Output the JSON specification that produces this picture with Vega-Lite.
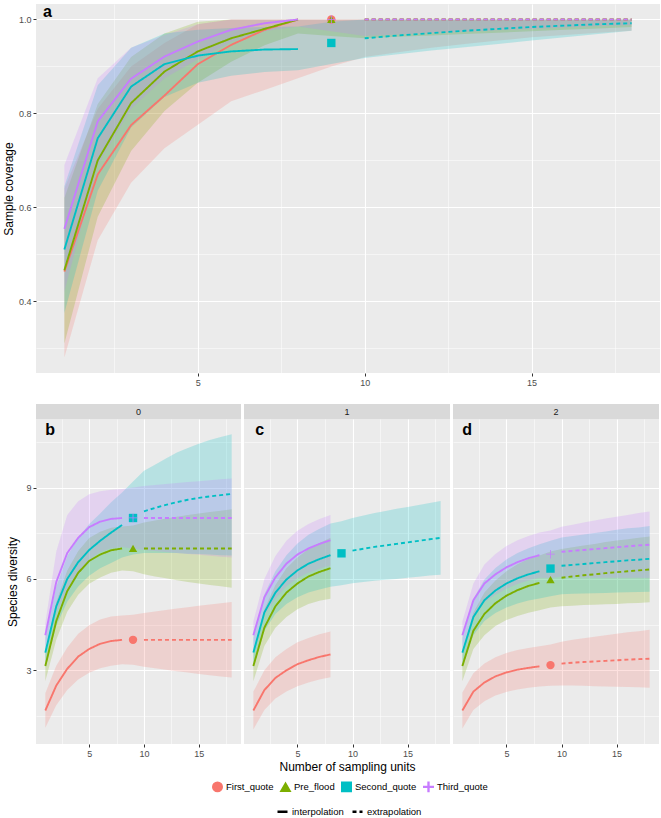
{
  "$schema": "https://vega.github.io/schema/vega-lite/v6.json",
  "padding": {"top": 3, "left": 2, "right": 2, "bottom": 0},
  "background": "white",
  "config": {
    "font": "Liberation Sans",
    "view": {"fill": "#EBEBEB", "stroke": null},
    "axis": {"domain": false, "gridColor": "#FFFFFF", "tickColor": "#333333", "tickSize": 3, "labelColor": "#4D4D4D", "labelFontSize": 9, "labelPadding": 2, "titleFontWeight": "normal", "titleColor": "#000000", "titleFontSize": 12, "labelOverlap": false},
    "legend": {"labelFontSize": 9.5, "labelColor": "#000000", "labelOffset": 3, "columnPadding": 3}
  },
  "datasets": {
    "cov": [
      {"g":"First_quote","x":1,"m":"interpolation","y":0.463,"lo":0.28,"hi":0.64},
      {"g":"First_quote","x":2,"m":"interpolation","y":0.67,"lo":0.53,"hi":0.81},
      {"g":"First_quote","x":3,"m":"interpolation","y":0.775,"lo":0.652,"hi":0.9},
      {"g":"First_quote","x":4,"m":"interpolation","y":0.838,"lo":0.726,"hi":0.95},
      {"g":"First_quote","x":5,"m":"interpolation","y":0.905,"lo":0.776,"hi":0.99},
      {"g":"First_quote","x":6,"m":"interpolation","y":0.946,"lo":0.826,"hi":1.0},
      {"g":"First_quote","x":7,"m":"interpolation","y":0.978,"lo":0.85,"hi":1.0},
      {"g":"First_quote","x":8,"m":"interpolation","y":1.0,"lo":0.875,"hi":1.0},
      {"g":"First_quote","x":9,"m":"observed","y":1.0,"lo":0.9,"hi":1.0},
      {"g":"First_quote","x":10,"m":"extrapolation","y":1.0,"lo":0.92,"hi":1.0},
      {"g":"First_quote","x":11,"m":"extrapolation","y":1.0,"lo":0.93,"hi":1.0},
      {"g":"First_quote","x":12,"m":"extrapolation","y":1.0,"lo":0.94,"hi":1.0},
      {"g":"First_quote","x":13,"m":"extrapolation","y":1.0,"lo":0.948,"hi":1.0},
      {"g":"First_quote","x":14,"m":"extrapolation","y":1.0,"lo":0.955,"hi":1.0},
      {"g":"First_quote","x":15,"m":"extrapolation","y":1.0,"lo":0.962,"hi":1.0},
      {"g":"First_quote","x":16,"m":"extrapolation","y":1.0,"lo":0.967,"hi":1.0},
      {"g":"First_quote","x":17,"m":"extrapolation","y":1.0,"lo":0.972,"hi":1.0},
      {"g":"First_quote","x":18,"m":"extrapolation","y":1.0,"lo":0.976,"hi":1.0},
      {"g":"Pre_flood","x":1,"m":"interpolation","y":0.466,"lo":0.31,"hi":0.62},
      {"g":"Pre_flood","x":2,"m":"interpolation","y":0.7,"lo":0.58,"hi":0.82},
      {"g":"Pre_flood","x":3,"m":"interpolation","y":0.822,"lo":0.72,"hi":0.92},
      {"g":"Pre_flood","x":4,"m":"interpolation","y":0.889,"lo":0.805,"hi":0.97},
      {"g":"Pre_flood","x":5,"m":"interpolation","y":0.932,"lo":0.865,"hi":0.995},
      {"g":"Pre_flood","x":6,"m":"interpolation","y":0.96,"lo":0.91,"hi":1.0},
      {"g":"Pre_flood","x":7,"m":"interpolation","y":0.98,"lo":0.945,"hi":1.0},
      {"g":"Pre_flood","x":8,"m":"interpolation","y":1.0,"lo":0.97,"hi":1.0},
      {"g":"Pre_flood","x":9,"m":"observed","y":1.0,"lo":0.965,"hi":1.0},
      {"g":"Pre_flood","x":10,"m":"extrapolation","y":1.0,"lo":0.96,"hi":1.0},
      {"g":"Pre_flood","x":11,"m":"extrapolation","y":1.0,"lo":0.963,"hi":1.0},
      {"g":"Pre_flood","x":12,"m":"extrapolation","y":1.0,"lo":0.966,"hi":1.0},
      {"g":"Pre_flood","x":13,"m":"extrapolation","y":1.0,"lo":0.969,"hi":1.0},
      {"g":"Pre_flood","x":14,"m":"extrapolation","y":1.0,"lo":0.972,"hi":1.0},
      {"g":"Pre_flood","x":15,"m":"extrapolation","y":1.0,"lo":0.975,"hi":1.0},
      {"g":"Pre_flood","x":16,"m":"extrapolation","y":1.0,"lo":0.978,"hi":1.0},
      {"g":"Pre_flood","x":17,"m":"extrapolation","y":1.0,"lo":0.981,"hi":1.0},
      {"g":"Pre_flood","x":18,"m":"extrapolation","y":1.0,"lo":0.984,"hi":1.0},
      {"g":"Second_quote","x":1,"m":"interpolation","y":0.51,"lo":0.375,"hi":0.645},
      {"g":"Second_quote","x":2,"m":"interpolation","y":0.747,"lo":0.635,"hi":0.86},
      {"g":"Second_quote","x":3,"m":"interpolation","y":0.857,"lo":0.77,"hi":0.94},
      {"g":"Second_quote","x":4,"m":"interpolation","y":0.905,"lo":0.835,"hi":0.97},
      {"g":"Second_quote","x":5,"m":"interpolation","y":0.923,"lo":0.865,"hi":0.978},
      {"g":"Second_quote","x":6,"m":"interpolation","y":0.932,"lo":0.88,"hi":0.982},
      {"g":"Second_quote","x":7,"m":"interpolation","y":0.936,"lo":0.888,"hi":0.984},
      {"g":"Second_quote","x":8,"m":"interpolation","y":0.937,"lo":0.892,"hi":0.985},
      {"g":"Second_quote","x":9,"m":"observed","y":0.95,"lo":0.905,"hi":0.995},
      {"g":"Second_quote","x":10,"m":"extrapolation","y":0.96,"lo":0.918,"hi":1.0},
      {"g":"Second_quote","x":11,"m":"extrapolation","y":0.966,"lo":0.926,"hi":1.0},
      {"g":"Second_quote","x":12,"m":"extrapolation","y":0.971,"lo":0.934,"hi":1.0},
      {"g":"Second_quote","x":13,"m":"extrapolation","y":0.976,"lo":0.941,"hi":1.0},
      {"g":"Second_quote","x":14,"m":"extrapolation","y":0.98,"lo":0.948,"hi":1.0},
      {"g":"Second_quote","x":15,"m":"extrapolation","y":0.984,"lo":0.955,"hi":1.0},
      {"g":"Second_quote","x":16,"m":"extrapolation","y":0.987,"lo":0.962,"hi":1.0},
      {"g":"Second_quote","x":17,"m":"extrapolation","y":0.99,"lo":0.969,"hi":1.0},
      {"g":"Second_quote","x":18,"m":"extrapolation","y":0.992,"lo":0.976,"hi":1.0},
      {"g":"Third_quote","x":1,"m":"interpolation","y":0.554,"lo":0.42,"hi":0.69},
      {"g":"Third_quote","x":2,"m":"interpolation","y":0.783,"lo":0.69,"hi":0.875},
      {"g":"Third_quote","x":3,"m":"interpolation","y":0.874,"lo":0.81,"hi":0.94},
      {"g":"Third_quote","x":4,"m":"interpolation","y":0.921,"lo":0.875,"hi":0.967},
      {"g":"Third_quote","x":5,"m":"interpolation","y":0.953,"lo":0.915,"hi":0.99},
      {"g":"Third_quote","x":6,"m":"interpolation","y":0.978,"lo":0.952,"hi":1.0},
      {"g":"Third_quote","x":7,"m":"interpolation","y":0.992,"lo":0.975,"hi":1.0},
      {"g":"Third_quote","x":8,"m":"interpolation","y":1.0,"lo":0.985,"hi":1.0},
      {"g":"Third_quote","x":9,"m":"observed","y":1.0,"lo":0.975,"hi":1.0},
      {"g":"Third_quote","x":10,"m":"extrapolation","y":1.0,"lo":0.965,"hi":1.0},
      {"g":"Third_quote","x":11,"m":"extrapolation","y":1.0,"lo":0.968,"hi":1.0},
      {"g":"Third_quote","x":12,"m":"extrapolation","y":1.0,"lo":0.971,"hi":1.0},
      {"g":"Third_quote","x":13,"m":"extrapolation","y":1.0,"lo":0.974,"hi":1.0},
      {"g":"Third_quote","x":14,"m":"extrapolation","y":1.0,"lo":0.977,"hi":1.0},
      {"g":"Third_quote","x":15,"m":"extrapolation","y":1.0,"lo":0.98,"hi":1.0},
      {"g":"Third_quote","x":16,"m":"extrapolation","y":1.0,"lo":0.983,"hi":1.0},
      {"g":"Third_quote","x":17,"m":"extrapolation","y":1.0,"lo":0.986,"hi":1.0},
      {"g":"Third_quote","x":18,"m":"extrapolation","y":1.0,"lo":0.988,"hi":1.0}
    ],
    "div": [
      {"p":"0","g":"First_quote","x":1,"m":"interpolation","y":1.68,"lo":1.11,"hi":2.25},
      {"p":"0","g":"First_quote","x":2,"m":"interpolation","y":2.5,"lo":1.85,"hi":3.15},
      {"p":"0","g":"First_quote","x":3,"m":"interpolation","y":3.05,"lo":2.35,"hi":3.75},
      {"p":"0","g":"First_quote","x":4,"m":"interpolation","y":3.45,"lo":2.7,"hi":4.2},
      {"p":"0","g":"First_quote","x":5,"m":"interpolation","y":3.7,"lo":2.92,"hi":4.48},
      {"p":"0","g":"First_quote","x":6,"m":"interpolation","y":3.87,"lo":3.07,"hi":4.67},
      {"p":"0","g":"First_quote","x":7,"m":"interpolation","y":3.96,"lo":3.15,"hi":4.77},
      {"p":"0","g":"First_quote","x":8,"m":"interpolation","y":4.0,"lo":3.2,"hi":4.8},
      {"p":"0","g":"First_quote","x":9,"m":"observed","y":4.0,"lo":3.18,"hi":4.82},
      {"p":"0","g":"First_quote","x":10,"m":"extrapolation","y":4.0,"lo":3.12,"hi":4.88},
      {"p":"0","g":"First_quote","x":11,"m":"extrapolation","y":4.0,"lo":3.07,"hi":4.93},
      {"p":"0","g":"First_quote","x":12,"m":"extrapolation","y":4.0,"lo":3.02,"hi":4.98},
      {"p":"0","g":"First_quote","x":13,"m":"extrapolation","y":4.0,"lo":2.97,"hi":5.03},
      {"p":"0","g":"First_quote","x":14,"m":"extrapolation","y":4.0,"lo":2.93,"hi":5.07},
      {"p":"0","g":"First_quote","x":15,"m":"extrapolation","y":4.0,"lo":2.88,"hi":5.12},
      {"p":"0","g":"First_quote","x":16,"m":"extrapolation","y":4.0,"lo":2.84,"hi":5.16},
      {"p":"0","g":"First_quote","x":17,"m":"extrapolation","y":4.0,"lo":2.8,"hi":5.2},
      {"p":"0","g":"First_quote","x":18,"m":"extrapolation","y":4.0,"lo":2.76,"hi":5.24},
      {"p":"0","g":"Pre_flood","x":1,"m":"interpolation","y":3.14,"lo":2.64,"hi":3.64},
      {"p":"0","g":"Pre_flood","x":2,"m":"interpolation","y":4.62,"lo":4.0,"hi":5.24},
      {"p":"0","g":"Pre_flood","x":3,"m":"interpolation","y":5.6,"lo":4.92,"hi":6.28},
      {"p":"0","g":"Pre_flood","x":4,"m":"interpolation","y":6.2,"lo":5.48,"hi":6.92},
      {"p":"0","g":"Pre_flood","x":5,"m":"interpolation","y":6.59,"lo":5.84,"hi":7.34},
      {"p":"0","g":"Pre_flood","x":6,"m":"interpolation","y":6.8,"lo":6.05,"hi":7.55},
      {"p":"0","g":"Pre_flood","x":7,"m":"interpolation","y":6.94,"lo":6.2,"hi":7.68},
      {"p":"0","g":"Pre_flood","x":8,"m":"interpolation","y":7.0,"lo":6.28,"hi":7.72},
      {"p":"0","g":"Pre_flood","x":9,"m":"observed","y":7.0,"lo":6.25,"hi":7.75},
      {"p":"0","g":"Pre_flood","x":10,"m":"extrapolation","y":7.0,"lo":6.15,"hi":7.85},
      {"p":"0","g":"Pre_flood","x":11,"m":"extrapolation","y":7.0,"lo":6.08,"hi":7.92},
      {"p":"0","g":"Pre_flood","x":12,"m":"extrapolation","y":7.0,"lo":6.02,"hi":7.98},
      {"p":"0","g":"Pre_flood","x":13,"m":"extrapolation","y":7.0,"lo":5.96,"hi":8.04},
      {"p":"0","g":"Pre_flood","x":14,"m":"extrapolation","y":7.0,"lo":5.9,"hi":8.1},
      {"p":"0","g":"Pre_flood","x":15,"m":"extrapolation","y":7.0,"lo":5.85,"hi":8.15},
      {"p":"0","g":"Pre_flood","x":16,"m":"extrapolation","y":7.0,"lo":5.8,"hi":8.2},
      {"p":"0","g":"Pre_flood","x":17,"m":"extrapolation","y":7.0,"lo":5.76,"hi":8.24},
      {"p":"0","g":"Pre_flood","x":18,"m":"extrapolation","y":7.0,"lo":5.71,"hi":8.29},
      {"p":"0","g":"Second_quote","x":1,"m":"interpolation","y":3.58,"lo":3.08,"hi":4.08},
      {"p":"0","g":"Second_quote","x":2,"m":"interpolation","y":5.1,"lo":4.45,"hi":5.75},
      {"p":"0","g":"Second_quote","x":3,"m":"interpolation","y":6.0,"lo":5.25,"hi":6.75},
      {"p":"0","g":"Second_quote","x":4,"m":"interpolation","y":6.55,"lo":5.75,"hi":7.35},
      {"p":"0","g":"Second_quote","x":5,"m":"interpolation","y":6.95,"lo":6.1,"hi":7.8},
      {"p":"0","g":"Second_quote","x":6,"m":"interpolation","y":7.25,"lo":6.35,"hi":8.15},
      {"p":"0","g":"Second_quote","x":7,"m":"interpolation","y":7.52,"lo":6.52,"hi":8.52},
      {"p":"0","g":"Second_quote","x":8,"m":"interpolation","y":7.77,"lo":6.7,"hi":8.84},
      {"p":"0","g":"Second_quote","x":9,"m":"observed","y":8.0,"lo":6.8,"hi":9.2},
      {"p":"0","g":"Second_quote","x":10,"m":"extrapolation","y":8.22,"lo":6.85,"hi":9.55},
      {"p":"0","g":"Second_quote","x":11,"m":"extrapolation","y":8.33,"lo":6.85,"hi":9.75},
      {"p":"0","g":"Second_quote","x":12,"m":"extrapolation","y":8.43,"lo":6.85,"hi":9.95},
      {"p":"0","g":"Second_quote","x":13,"m":"extrapolation","y":8.52,"lo":6.85,"hi":10.15},
      {"p":"0","g":"Second_quote","x":14,"m":"extrapolation","y":8.6,"lo":6.83,"hi":10.3},
      {"p":"0","g":"Second_quote","x":15,"m":"extrapolation","y":8.66,"lo":6.82,"hi":10.44},
      {"p":"0","g":"Second_quote","x":16,"m":"extrapolation","y":8.71,"lo":6.8,"hi":10.56},
      {"p":"0","g":"Second_quote","x":17,"m":"extrapolation","y":8.75,"lo":6.78,"hi":10.66},
      {"p":"0","g":"Second_quote","x":18,"m":"extrapolation","y":8.79,"lo":6.77,"hi":10.75},
      {"p":"0","g":"Third_quote","x":1,"m":"interpolation","y":4.15,"lo":3.75,"hi":4.55},
      {"p":"0","g":"Third_quote","x":2,"m":"interpolation","y":5.9,"lo":4.9,"hi":6.9},
      {"p":"0","g":"Third_quote","x":3,"m":"interpolation","y":6.85,"lo":5.6,"hi":8.1},
      {"p":"0","g":"Third_quote","x":4,"m":"interpolation","y":7.35,"lo":6.15,"hi":8.55},
      {"p":"0","g":"Third_quote","x":5,"m":"interpolation","y":7.7,"lo":6.62,"hi":8.78},
      {"p":"0","g":"Third_quote","x":6,"m":"interpolation","y":7.88,"lo":6.88,"hi":8.88},
      {"p":"0","g":"Third_quote","x":7,"m":"interpolation","y":7.97,"lo":7.01,"hi":8.93},
      {"p":"0","g":"Third_quote","x":8,"m":"interpolation","y":8.0,"lo":7.05,"hi":8.95},
      {"p":"0","g":"Third_quote","x":9,"m":"observed","y":8.0,"lo":7.0,"hi":9.0},
      {"p":"0","g":"Third_quote","x":10,"m":"extrapolation","y":8.0,"lo":6.95,"hi":9.05},
      {"p":"0","g":"Third_quote","x":11,"m":"extrapolation","y":8.0,"lo":6.92,"hi":9.08},
      {"p":"0","g":"Third_quote","x":12,"m":"extrapolation","y":8.0,"lo":6.88,"hi":9.12},
      {"p":"0","g":"Third_quote","x":13,"m":"extrapolation","y":8.0,"lo":6.85,"hi":9.15},
      {"p":"0","g":"Third_quote","x":14,"m":"extrapolation","y":8.0,"lo":6.82,"hi":9.18},
      {"p":"0","g":"Third_quote","x":15,"m":"extrapolation","y":8.0,"lo":6.79,"hi":9.21},
      {"p":"0","g":"Third_quote","x":16,"m":"extrapolation","y":8.0,"lo":6.76,"hi":9.24},
      {"p":"0","g":"Third_quote","x":17,"m":"extrapolation","y":8.0,"lo":6.73,"hi":9.27},
      {"p":"0","g":"Third_quote","x":18,"m":"extrapolation","y":8.0,"lo":6.7,"hi":9.3},
      {"p":"1","g":"First_quote","x":1,"m":"interpolation","y":1.68,"lo":1.06,"hi":2.3},
      {"p":"1","g":"First_quote","x":2,"m":"interpolation","y":2.35,"lo":1.7,"hi":3.0},
      {"p":"1","g":"First_quote","x":3,"m":"interpolation","y":2.75,"lo":2.07,"hi":3.43},
      {"p":"1","g":"First_quote","x":4,"m":"interpolation","y":3.0,"lo":2.3,"hi":3.7},
      {"p":"1","g":"First_quote","x":5,"m":"interpolation","y":3.2,"lo":2.48,"hi":3.92},
      {"p":"1","g":"First_quote","x":6,"m":"interpolation","y":3.33,"lo":2.6,"hi":4.06},
      {"p":"1","g":"First_quote","x":7,"m":"interpolation","y":3.44,"lo":2.7,"hi":4.18},
      {"p":"1","g":"First_quote","x":8,"m":"interpolation","y":3.52,"lo":2.77,"hi":4.27},
      {"p":"1","g":"Pre_flood","x":1,"m":"interpolation","y":3.14,"lo":2.64,"hi":3.64},
      {"p":"1","g":"Pre_flood","x":2,"m":"interpolation","y":4.4,"lo":3.8,"hi":5.0},
      {"p":"1","g":"Pre_flood","x":3,"m":"interpolation","y":5.1,"lo":4.4,"hi":5.8},
      {"p":"1","g":"Pre_flood","x":4,"m":"interpolation","y":5.55,"lo":4.75,"hi":6.35},
      {"p":"1","g":"Pre_flood","x":5,"m":"interpolation","y":5.85,"lo":5.0,"hi":6.7},
      {"p":"1","g":"Pre_flood","x":6,"m":"interpolation","y":6.08,"lo":5.18,"hi":6.98},
      {"p":"1","g":"Pre_flood","x":7,"m":"interpolation","y":6.23,"lo":5.28,"hi":7.18},
      {"p":"1","g":"Pre_flood","x":8,"m":"interpolation","y":6.35,"lo":5.35,"hi":7.35},
      {"p":"1","g":"Second_quote","x":1,"m":"interpolation","y":3.58,"lo":3.08,"hi":4.08},
      {"p":"1","g":"Second_quote","x":2,"m":"interpolation","y":4.9,"lo":4.3,"hi":5.5},
      {"p":"1","g":"Second_quote","x":3,"m":"interpolation","y":5.55,"lo":4.85,"hi":6.25},
      {"p":"1","g":"Second_quote","x":4,"m":"interpolation","y":5.98,"lo":5.18,"hi":6.78},
      {"p":"1","g":"Second_quote","x":5,"m":"interpolation","y":6.28,"lo":5.4,"hi":7.16},
      {"p":"1","g":"Second_quote","x":6,"m":"interpolation","y":6.5,"lo":5.55,"hi":7.45},
      {"p":"1","g":"Second_quote","x":7,"m":"interpolation","y":6.65,"lo":5.65,"hi":7.65},
      {"p":"1","g":"Second_quote","x":8,"m":"interpolation","y":6.78,"lo":5.74,"hi":7.82},
      {"p":"1","g":"Second_quote","x":9,"m":"observed","y":6.84,"lo":5.79,"hi":7.89},
      {"p":"1","g":"Second_quote","x":10,"m":"extrapolation","y":6.93,"lo":5.86,"hi":8.0},
      {"p":"1","g":"Second_quote","x":11,"m":"extrapolation","y":6.99,"lo":5.9,"hi":8.08},
      {"p":"1","g":"Second_quote","x":12,"m":"extrapolation","y":7.05,"lo":5.94,"hi":8.16},
      {"p":"1","g":"Second_quote","x":13,"m":"extrapolation","y":7.1,"lo":5.97,"hi":8.23},
      {"p":"1","g":"Second_quote","x":14,"m":"extrapolation","y":7.15,"lo":6.0,"hi":8.3},
      {"p":"1","g":"Second_quote","x":15,"m":"extrapolation","y":7.2,"lo":6.04,"hi":8.36},
      {"p":"1","g":"Second_quote","x":16,"m":"extrapolation","y":7.25,"lo":6.07,"hi":8.43},
      {"p":"1","g":"Second_quote","x":17,"m":"extrapolation","y":7.3,"lo":6.11,"hi":8.49},
      {"p":"1","g":"Second_quote","x":18,"m":"extrapolation","y":7.35,"lo":6.14,"hi":8.56},
      {"p":"1","g":"Third_quote","x":1,"m":"interpolation","y":4.15,"lo":3.7,"hi":4.6},
      {"p":"1","g":"Third_quote","x":2,"m":"interpolation","y":5.4,"lo":4.8,"hi":6.0},
      {"p":"1","g":"Third_quote","x":3,"m":"interpolation","y":6.05,"lo":5.35,"hi":6.75},
      {"p":"1","g":"Third_quote","x":4,"m":"interpolation","y":6.5,"lo":5.75,"hi":7.25},
      {"p":"1","g":"Third_quote","x":5,"m":"interpolation","y":6.8,"lo":6.02,"hi":7.58},
      {"p":"1","g":"Third_quote","x":6,"m":"interpolation","y":7.0,"lo":6.2,"hi":7.8},
      {"p":"1","g":"Third_quote","x":7,"m":"interpolation","y":7.15,"lo":6.33,"hi":7.97},
      {"p":"1","g":"Third_quote","x":8,"m":"interpolation","y":7.27,"lo":6.44,"hi":8.1},
      {"p":"2","g":"First_quote","x":1,"m":"interpolation","y":1.68,"lo":1.09,"hi":2.27},
      {"p":"2","g":"First_quote","x":2,"m":"interpolation","y":2.3,"lo":1.7,"hi":2.9},
      {"p":"2","g":"First_quote","x":3,"m":"interpolation","y":2.6,"lo":1.98,"hi":3.22},
      {"p":"2","g":"First_quote","x":4,"m":"interpolation","y":2.8,"lo":2.17,"hi":3.43},
      {"p":"2","g":"First_quote","x":5,"m":"interpolation","y":2.93,"lo":2.29,"hi":3.57},
      {"p":"2","g":"First_quote","x":6,"m":"interpolation","y":3.02,"lo":2.37,"hi":3.67},
      {"p":"2","g":"First_quote","x":7,"m":"interpolation","y":3.08,"lo":2.43,"hi":3.73},
      {"p":"2","g":"First_quote","x":8,"m":"interpolation","y":3.13,"lo":2.47,"hi":3.79},
      {"p":"2","g":"First_quote","x":9,"m":"observed","y":3.17,"lo":2.49,"hi":3.85},
      {"p":"2","g":"First_quote","x":10,"m":"extrapolation","y":3.22,"lo":2.5,"hi":3.94},
      {"p":"2","g":"First_quote","x":11,"m":"extrapolation","y":3.25,"lo":2.5,"hi":4.0},
      {"p":"2","g":"First_quote","x":12,"m":"extrapolation","y":3.27,"lo":2.49,"hi":4.05},
      {"p":"2","g":"First_quote","x":13,"m":"extrapolation","y":3.29,"lo":2.48,"hi":4.1},
      {"p":"2","g":"First_quote","x":14,"m":"extrapolation","y":3.31,"lo":2.47,"hi":4.15},
      {"p":"2","g":"First_quote","x":15,"m":"extrapolation","y":3.33,"lo":2.46,"hi":4.2},
      {"p":"2","g":"First_quote","x":16,"m":"extrapolation","y":3.35,"lo":2.45,"hi":4.25},
      {"p":"2","g":"First_quote","x":17,"m":"extrapolation","y":3.365,"lo":2.445,"hi":4.285},
      {"p":"2","g":"First_quote","x":18,"m":"extrapolation","y":3.38,"lo":2.43,"hi":4.33},
      {"p":"2","g":"Pre_flood","x":1,"m":"interpolation","y":3.14,"lo":2.64,"hi":3.64},
      {"p":"2","g":"Pre_flood","x":2,"m":"interpolation","y":4.3,"lo":3.7,"hi":4.9},
      {"p":"2","g":"Pre_flood","x":3,"m":"interpolation","y":4.85,"lo":4.15,"hi":5.55},
      {"p":"2","g":"Pre_flood","x":4,"m":"interpolation","y":5.2,"lo":4.45,"hi":5.95},
      {"p":"2","g":"Pre_flood","x":5,"m":"interpolation","y":5.45,"lo":4.65,"hi":6.25},
      {"p":"2","g":"Pre_flood","x":6,"m":"interpolation","y":5.63,"lo":4.78,"hi":6.48},
      {"p":"2","g":"Pre_flood","x":7,"m":"interpolation","y":5.77,"lo":4.89,"hi":6.65},
      {"p":"2","g":"Pre_flood","x":8,"m":"interpolation","y":5.87,"lo":4.97,"hi":6.77},
      {"p":"2","g":"Pre_flood","x":9,"m":"observed","y":5.98,"lo":5.06,"hi":6.9},
      {"p":"2","g":"Pre_flood","x":10,"m":"extrapolation","y":6.04,"lo":5.1,"hi":6.98},
      {"p":"2","g":"Pre_flood","x":11,"m":"extrapolation","y":6.08,"lo":5.12,"hi":7.04},
      {"p":"2","g":"Pre_flood","x":12,"m":"extrapolation","y":6.12,"lo":5.14,"hi":7.1},
      {"p":"2","g":"Pre_flood","x":13,"m":"extrapolation","y":6.15,"lo":5.15,"hi":7.15},
      {"p":"2","g":"Pre_flood","x":14,"m":"extrapolation","y":6.19,"lo":5.17,"hi":7.21},
      {"p":"2","g":"Pre_flood","x":15,"m":"extrapolation","y":6.22,"lo":5.18,"hi":7.26},
      {"p":"2","g":"Pre_flood","x":16,"m":"extrapolation","y":6.25,"lo":5.2,"hi":7.3},
      {"p":"2","g":"Pre_flood","x":17,"m":"extrapolation","y":6.28,"lo":5.21,"hi":7.35},
      {"p":"2","g":"Pre_flood","x":18,"m":"extrapolation","y":6.31,"lo":5.23,"hi":7.39},
      {"p":"2","g":"Second_quote","x":1,"m":"interpolation","y":3.58,"lo":3.08,"hi":4.08},
      {"p":"2","g":"Second_quote","x":2,"m":"interpolation","y":4.75,"lo":4.15,"hi":5.35},
      {"p":"2","g":"Second_quote","x":3,"m":"interpolation","y":5.3,"lo":4.62,"hi":5.98},
      {"p":"2","g":"Second_quote","x":4,"m":"interpolation","y":5.62,"lo":4.88,"hi":6.36},
      {"p":"2","g":"Second_quote","x":5,"m":"interpolation","y":5.85,"lo":5.06,"hi":6.64},
      {"p":"2","g":"Second_quote","x":6,"m":"interpolation","y":6.02,"lo":5.19,"hi":6.85},
      {"p":"2","g":"Second_quote","x":7,"m":"interpolation","y":6.15,"lo":5.29,"hi":7.01},
      {"p":"2","g":"Second_quote","x":8,"m":"interpolation","y":6.25,"lo":5.36,"hi":7.14},
      {"p":"2","g":"Second_quote","x":9,"m":"observed","y":6.34,"lo":5.43,"hi":7.25},
      {"p":"2","g":"Second_quote","x":10,"m":"extrapolation","y":6.43,"lo":5.5,"hi":7.36},
      {"p":"2","g":"Second_quote","x":11,"m":"extrapolation","y":6.46,"lo":5.51,"hi":7.41},
      {"p":"2","g":"Second_quote","x":12,"m":"extrapolation","y":6.49,"lo":5.52,"hi":7.46},
      {"p":"2","g":"Second_quote","x":13,"m":"extrapolation","y":6.52,"lo":5.53,"hi":7.51},
      {"p":"2","g":"Second_quote","x":14,"m":"extrapolation","y":6.55,"lo":5.54,"hi":7.56},
      {"p":"2","g":"Second_quote","x":15,"m":"extrapolation","y":6.58,"lo":5.55,"hi":7.61},
      {"p":"2","g":"Second_quote","x":16,"m":"extrapolation","y":6.61,"lo":5.56,"hi":7.66},
      {"p":"2","g":"Second_quote","x":17,"m":"extrapolation","y":6.63,"lo":5.57,"hi":7.69},
      {"p":"2","g":"Second_quote","x":18,"m":"extrapolation","y":6.66,"lo":5.58,"hi":7.74},
      {"p":"2","g":"Third_quote","x":1,"m":"interpolation","y":4.15,"lo":3.7,"hi":4.6},
      {"p":"2","g":"Third_quote","x":2,"m":"interpolation","y":5.3,"lo":4.75,"hi":5.85},
      {"p":"2","g":"Third_quote","x":3,"m":"interpolation","y":5.85,"lo":5.23,"hi":6.47},
      {"p":"2","g":"Third_quote","x":4,"m":"interpolation","y":6.15,"lo":5.48,"hi":6.82},
      {"p":"2","g":"Third_quote","x":5,"m":"interpolation","y":6.38,"lo":5.68,"hi":7.08},
      {"p":"2","g":"Third_quote","x":6,"m":"interpolation","y":6.55,"lo":5.83,"hi":7.27},
      {"p":"2","g":"Third_quote","x":7,"m":"interpolation","y":6.68,"lo":5.95,"hi":7.41},
      {"p":"2","g":"Third_quote","x":8,"m":"interpolation","y":6.78,"lo":6.04,"hi":7.52},
      {"p":"2","g":"Third_quote","x":9,"m":"observed","y":6.81,"lo":6.03,"hi":7.59},
      {"p":"2","g":"Third_quote","x":10,"m":"extrapolation","y":6.89,"lo":6.07,"hi":7.71},
      {"p":"2","g":"Third_quote","x":11,"m":"extrapolation","y":6.92,"lo":6.06,"hi":7.78},
      {"p":"2","g":"Third_quote","x":12,"m":"extrapolation","y":6.95,"lo":6.05,"hi":7.85},
      {"p":"2","g":"Third_quote","x":13,"m":"extrapolation","y":6.98,"lo":6.04,"hi":7.92},
      {"p":"2","g":"Third_quote","x":14,"m":"extrapolation","y":7.01,"lo":6.04,"hi":7.98},
      {"p":"2","g":"Third_quote","x":15,"m":"extrapolation","y":7.04,"lo":6.04,"hi":8.04},
      {"p":"2","g":"Third_quote","x":16,"m":"extrapolation","y":7.07,"lo":6.04,"hi":8.1},
      {"p":"2","g":"Third_quote","x":17,"m":"extrapolation","y":7.1,"lo":6.04,"hi":8.16},
      {"p":"2","g":"Third_quote","x":18,"m":"extrapolation","y":7.12,"lo":6.03,"hi":8.21}
    ],
    "tags": [
      {"t":"a","panel":"a"}
    ]
  },
  "spacing": 17,
  "vconcat": [
    {
      "width": 624,
      "height": 369,
      "layer": [
        {"data": {"name": "cov"},
         "mark": {"type": "area", "fillOpacity": 0.22},
         "encoding": {
           "x": {"field": "x", "type": "quantitative", "scale": {"domain": [0.15, 18.85], "nice": false, "zero": false},
                 "axis": {"title": null, "values": [2.5, 5, 7.5, 10, 12.5, 15, 17.5], "labelExpr": "datum.value % 5 == 0 ? datum.label : ''",
                          "gridWidth": {"condition": {"test": "datum.value % 5 == 0", "value": 1.1}, "value": 0.5},
                          "tickOpacity": {"condition": {"test": "datum.value % 5 == 0", "value": 1}, "value": 0}}},
           "y": {"field": "lo", "type": "quantitative", "scale": {"domain": [0.247, 1.033], "nice": false, "zero": false},
                 "axis": {"title": "Sample coverage", "titlePadding": 3, "values": [0.3, 0.4, 0.5, 0.6, 0.7, 0.8, 0.9, 1.0],
                          "labelExpr": "round(datum.value * 10) % 2 == 0 ? format(datum.value, '.1f') : ''",
                          "gridWidth": {"condition": {"test": "round(datum.value * 10) % 2 == 0", "value": 1.1}, "value": 0.5},
                          "tickOpacity": {"condition": {"test": "round(datum.value * 10) % 2 == 0", "value": 1}, "value": 0}}},
           "y2": {"field": "hi"},
           "color": {"field": "g", "type": "nominal", "scale": {"domain": ["First_quote", "Pre_flood", "Second_quote", "Third_quote"], "range": ["#F8766D", "#7CAE00", "#00BFC4", "#C77CFF"]},
                     "legend": {"title": null, "orient": "none", "legendX": 176, "legendY": 777, "direction": "horizontal", "symbolSize": 90}}
         }},
        {"data": {"name": "cov"},
         "transform": [{"filter": "datum.m != 'observed'"}],
         "mark": {"type": "line", "strokeWidth": 1.9},
         "encoding": {
           "x": {"field": "x", "type": "quantitative", "title": null},
           "y": {"field": "y", "type": "quantitative", "title": "Sample coverage"},
           "color": {"field": "g", "type": "nominal"},
           "strokeDash": {"field": "m", "type": "nominal", "scale": {"domain": ["interpolation", "extrapolation"], "range": [[1, 0], [4, 3]]},
                          "legend": {"title": null, "orient": "none", "legendX": 240, "legendY": 801, "direction": "horizontal", "symbolStrokeColor": "black", "symbolStrokeWidth": 2.5}}
         }},
        {"data": {"name": "cov"},
         "transform": [{"filter": "datum.m == 'observed'"}],
         "mark": {"type": "point", "filled": true, "size": 70, "opacity": 1},
         "encoding": {
           "x": {"field": "x", "type": "quantitative", "title": null},
           "y": {"field": "y", "type": "quantitative", "title": "Sample coverage"},
           "color": {"field": "g", "type": "nominal"},
           "shape": {"field": "g", "type": "nominal", "scale": {"domain": ["First_quote", "Pre_flood", "Second_quote", "Third_quote"], "range": ["circle", "triangle-up", "square", "M-1,-0.09H1V0.09H-1Z M-0.09,-1H0.09V1H-0.09Z"]},
                     "legend": {"title": null, "orient": "none", "legendX": 176, "legendY": 777, "direction": "horizontal", "symbolSize": 90}}
         }},
        {"data": {"name": "tags"},
         "transform": [{"filter": "datum.panel == 'a'"}],
         "mark": {"type": "text", "fontWeight": "bold", "fontSize": 16, "align": "left", "baseline": "middle", "fill": "black"},
         "encoding": {"x": {"datum": 0.36}, "y": {"datum": 1.016}, "text": {"field": "t", "type": "nominal"}}}
      ]
    },
    {
      "spacing": 3,
      "hconcat": [
        {
          "spacing": 0,
          "vconcat": [
            {"width": 205, "height": 15, "view": {"fill": "#D9D9D9", "stroke": null}, "data": {"values": [{"t": "0"}]},
             "mark": {"type": "text", "fontSize": 9, "color": "#1A1A1A"}, "encoding": {"text": {"field": "t"}}},
            {
              "width": 205, "height": 325,
              "data": {"name": "div"},
              "transform": [{"filter": "datum.p == '0'"}],
              "encoding": {
                "x": {"field": "x", "type": "quantitative", "scale": {"domain": [0.15, 18.85], "nice": false, "zero": false},
                      "axis": {"title": null, "values": [2.5, 5, 7.5, 10, 12.5, 15, 17.5], "labelExpr": "datum.value % 5 == 0 ? datum.label : ''",
                               "gridWidth": {"condition": {"test": "datum.value % 5 == 0", "value": 1.1}, "value": 0.5},
                               "tickOpacity": {"condition": {"test": "datum.value % 5 == 0", "value": 1}, "value": 0}}}
              },
              "layer": [
                {"mark": {"type": "area", "fillOpacity": 0.22},
                 "encoding": {
                   "y": {"field": "lo", "type": "quantitative", "scale": {"domain": [0.58, 11.25], "nice": false, "zero": false},
                         "axis": {"title": "Species diversity", "titlePadding": 6, "values": [1.5, 3, 4.5, 6, 7.5, 9, 10.5],
                                  "labelExpr": "datum.value % 3 == 0 ? datum.label : ''",
                                  "gridWidth": {"condition": {"test": "datum.value % 3 == 0", "value": 1.1}, "value": 0.5},
                                  "tickOpacity": {"condition": {"test": "datum.value % 3 == 0", "value": 1}, "value": 0}}},
                   "y2": {"field": "hi"},
                   "color": {"field": "g", "type": "nominal"}
                 }},
                {"transform": [{"filter": "datum.m != 'observed'"}],
                 "mark": {"type": "line", "strokeWidth": 1.9},
                 "encoding": {"y": {"field": "y", "type": "quantitative", "title": "Species diversity"},
                              "color": {"field": "g", "type": "nominal"}, "strokeDash": {"field": "m", "type": "nominal"}}},
                {"transform": [{"filter": "datum.m == 'observed'"}],
                 "mark": {"type": "point", "filled": true, "size": 70, "opacity": 1},
                 "encoding": {"y": {"field": "y", "type": "quantitative", "title": "Species diversity"},
                              "color": {"field": "g", "type": "nominal"}, "shape": {"field": "g", "type": "nominal"}}},
                {"transform": [{"aggregate": [{"op": "min", "field": "x", "as": "x"}]}],
                 "mark": {"type": "text", "fontWeight": "bold", "fontSize": 16, "align": "left", "baseline": "middle", "fill": "black", "text": "b"},
                 "encoding": {"y": {"datum": 10.9}}}
              ]
            }
          ]
        },
        {
          "spacing": 0,
          "vconcat": [
            {"width": 206, "height": 15, "view": {"fill": "#D9D9D9", "stroke": null}, "data": {"values": [{"t": "1"}]},
             "mark": {"type": "text", "fontSize": 9, "color": "#1A1A1A"}, "encoding": {"text": {"field": "t"}}},
            {
              "width": 206, "height": 325,
              "data": {"name": "div"},
              "transform": [{"filter": "datum.p == '1'"}],
              "encoding": {
                "x": {"field": "x", "type": "quantitative", "scale": {"domain": [0.15, 18.85], "nice": false, "zero": false},
                      "axis": {"title": "Number of sampling units", "titleFontSize": 12, "titlePadding": 3, "values": [2.5, 5, 7.5, 10, 12.5, 15, 17.5], "labelExpr": "datum.value % 5 == 0 ? datum.label : ''",
                               "gridWidth": {"condition": {"test": "datum.value % 5 == 0", "value": 1.1}, "value": 0.5},
                               "tickOpacity": {"condition": {"test": "datum.value % 5 == 0", "value": 1}, "value": 0}}}
              },
              "layer": [
                {"mark": {"type": "area", "fillOpacity": 0.22},
                 "encoding": {
                   "y": {"field": "lo", "type": "quantitative", "scale": {"domain": [0.58, 11.25], "nice": false, "zero": false},
                         "axis": {"title": null, "labels": false, "ticks": false, "values": [1.5, 3, 4.5, 6, 7.5, 9, 10.5],
                                  "gridWidth": {"condition": {"test": "datum.value % 3 == 0", "value": 1.1}, "value": 0.5}}},
                   "y2": {"field": "hi"},
                   "color": {"field": "g", "type": "nominal"}
                 }},
                {"transform": [{"filter": "datum.m != 'observed'"}],
                 "mark": {"type": "line", "strokeWidth": 1.9},
                 "encoding": {"y": {"field": "y", "type": "quantitative", "title": null},
                              "color": {"field": "g", "type": "nominal"}, "strokeDash": {"field": "m", "type": "nominal"}}},
                {"transform": [{"filter": "datum.m == 'observed'"}],
                 "mark": {"type": "point", "filled": true, "size": 70, "opacity": 1},
                 "encoding": {"y": {"field": "y", "type": "quantitative", "title": null},
                              "color": {"field": "g", "type": "nominal"}, "shape": {"field": "g", "type": "nominal"}}},
                {"transform": [{"aggregate": [{"op": "min", "field": "x", "as": "x"}]}],
                 "mark": {"type": "text", "fontWeight": "bold", "fontSize": 16, "align": "left", "baseline": "middle", "fill": "black", "text": "c", "dx": 2},
                 "encoding": {"y": {"datum": 10.9}}}
              ]
            }
          ]
        },
        {
          "spacing": 0,
          "vconcat": [
            {"width": 206, "height": 15, "view": {"fill": "#D9D9D9", "stroke": null}, "data": {"values": [{"t": "2"}]},
             "mark": {"type": "text", "fontSize": 9, "color": "#1A1A1A"}, "encoding": {"text": {"field": "t"}}},
            {
              "width": 206, "height": 325,
              "data": {"name": "div"},
              "transform": [{"filter": "datum.p == '2'"}],
              "encoding": {
                "x": {"field": "x", "type": "quantitative", "scale": {"domain": [0.15, 18.85], "nice": false, "zero": false},
                      "axis": {"title": null, "values": [2.5, 5, 7.5, 10, 12.5, 15, 17.5], "labelExpr": "datum.value % 5 == 0 ? datum.label : ''",
                               "gridWidth": {"condition": {"test": "datum.value % 5 == 0", "value": 1.1}, "value": 0.5},
                               "tickOpacity": {"condition": {"test": "datum.value % 5 == 0", "value": 1}, "value": 0}}}
              },
              "layer": [
                {"mark": {"type": "area", "fillOpacity": 0.22},
                 "encoding": {
                   "y": {"field": "lo", "type": "quantitative", "scale": {"domain": [0.58, 11.25], "nice": false, "zero": false},
                         "axis": {"title": null, "labels": false, "ticks": false, "values": [1.5, 3, 4.5, 6, 7.5, 9, 10.5],
                                  "gridWidth": {"condition": {"test": "datum.value % 3 == 0", "value": 1.1}, "value": 0.5}}},
                   "y2": {"field": "hi"},
                   "color": {"field": "g", "type": "nominal"}
                 }},
                {"transform": [{"filter": "datum.m != 'observed'"}],
                 "mark": {"type": "line", "strokeWidth": 1.9},
                 "encoding": {"y": {"field": "y", "type": "quantitative", "title": null},
                              "color": {"field": "g", "type": "nominal"}, "strokeDash": {"field": "m", "type": "nominal"}}},
                {"transform": [{"filter": "datum.m == 'observed'"}],
                 "mark": {"type": "point", "filled": true, "size": 70, "opacity": 1},
                 "encoding": {"y": {"field": "y", "type": "quantitative", "title": null},
                              "color": {"field": "g", "type": "nominal"}, "shape": {"field": "g", "type": "nominal"}}},
                {"transform": [{"aggregate": [{"op": "min", "field": "x", "as": "x"}]}],
                 "mark": {"type": "text", "fontWeight": "bold", "fontSize": 16, "align": "left", "baseline": "middle", "fill": "black", "text": "d"},
                 "encoding": {"y": {"datum": 10.9}}}
              ]
            }
          ]
        }
      ]
    }
  ]
}
